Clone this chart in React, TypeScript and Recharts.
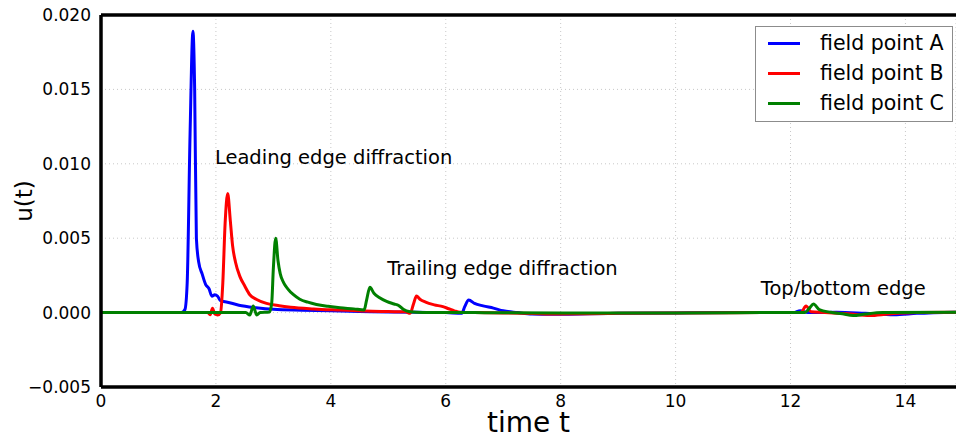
import { CartesianGrid, Label, Line, LineChart, ReferenceDot, ReferenceLine, XAxis, YAxis } from 'recharts';

// field point A (blue)
const tA = [0, 1.4, 1.46, 1.5, 1.55, 1.6, 1.63, 1.66, 1.7, 1.76, 1.82, 1.88, 1.93, 1.98, 2.03, 2.08, 2.2, 2.4, 2.7, 3.0, 3.5, 4.0, 4.5, 5.0, 5.5, 6.0, 6.28, 6.33, 6.4, 6.5, 6.65, 6.83, 7.0, 7.25, 7.5, 8.0, 8.5, 9.0, 10.0, 11.0, 12.05, 12.17, 12.3, 12.8, 13.3, 13.8, 14.2, 14.88];
const uA = [0, 0, 0.0002, 0.002, 0.012, 0.0189, 0.015, 0.005, 0.0034, 0.0026, 0.0019, 0.0016, 0.0011, 0.0012, 0.0011, 0.0008, 0.0007, 0.0005, 0.00033, 0.00022, 0.00016, 0.00012, 0.00008, 0.00004, 0.00002, 0, -0.00004, 0.0004, 0.00085, 0.00062, 0.00045, 0.0003, 0.00012, 0, -0.0001, -0.00011, -0.00008, -0.00005, -0.00002, 0, 0, 0.00013, 0, 0.00002, -0.00005, -0.00014, -0.00005, 0.00003];

// field point B (red)
const tB = [0, 1.86, 1.9, 1.94, 1.98, 2.03, 2.08, 2.12, 2.16, 2.205, 2.25, 2.29, 2.34, 2.42, 2.5, 2.59, 2.7, 2.88, 3.1, 3.3, 3.7, 4.16, 4.6, 5.0, 5.3, 5.38, 5.44, 5.49, 5.55, 5.65, 5.8, 5.95, 6.05, 6.15, 6.25, 6.5, 7.0, 7.5, 8.0, 8.5, 9.0, 10.0, 11.5, 12.18, 12.27, 12.36, 12.6, 13.0, 13.38, 13.7, 14.2, 14.88];
const uB = [0, 0, -0.00015, 0.0003, -0.0001, -0.00016, 0, 0.002, 0.006, 0.008, 0.0062, 0.0045, 0.0034, 0.0024, 0.0018, 0.0012, 0.0009, 0.00062, 0.00046, 0.00036, 0.00025, 0.00017, 0.0001, 0.00007, 0.00005, -0.00005, 0.0006, 0.00112, 0.0009, 0.0007, 0.00052, 0.0004, 0.00026, 0.00012, 0.00002, 0, -0.00002, -0.00006, -0.00009, -0.00008, -0.00005, -0.00002, 0, 0, 0.00044, 0.00005, 0.00001, -0.00008, -0.0002, -0.0001, 0, 0.00002];

// field point C (green)
const tC = [0, 2.52, 2.59, 2.65, 2.71, 2.77, 2.93, 2.97, 3.0, 3.04, 3.08, 3.12, 3.18, 3.25, 3.35, 3.46, 3.6, 3.75, 3.95, 4.16, 4.4, 4.58, 4.62, 4.68, 4.75, 4.85, 4.97, 5.1, 5.18, 5.26, 5.38, 5.6, 6.5, 8.0, 9.0, 10.0, 11.5, 12.25, 12.33, 12.4, 12.5, 12.7, 12.9, 13.09, 13.3, 13.6, 14.88];
const uC = [0, 0, -0.00016, 0.00044, -0.00016, 0, 0.00004, 0.0006, 0.003, 0.005, 0.0035, 0.0026, 0.002, 0.0016, 0.0012, 0.0009, 0.0007, 0.00055, 0.00042, 0.00032, 0.00025, 0.00018, 0.0008, 0.0017, 0.0013, 0.001, 0.00075, 0.00058, 0.00048, 0.00022, 0.00006, 0.00001, 0, -0.00002, -0.00003, -0.00002, 0, 0, 0.0003, 0.00058, 0.0002, 0.00002, -0.00008, -0.0002, -0.0001, 0, 0.00002];

const xTicks = [0, 2, 4, 6, 8, 10, 12, 14];
const yTicks = [-0.005, 0, 0.005, 0.01, 0.015, 0.02];

const seriesNames = ['field point A', 'field point B', 'field point C'];
const seriesColors = ['#0000ff', '#ff0000', '#008000'];

const noteTexts = ['Leading edge diffraction', 'Trailing edge diffraction', 'Top/bottom edge'];
const noteT = [2, 5, 11.5];
const noteU = [0.01, 0.0025, 0.0012];

const toRows = (ts: number[], us: number[]) => ts.map((t, i) => ({ t, u: us[i] }));
const series = [toRows(tA, uA), toRows(tB, uB), toRows(tC, uC)];

const FONT = 'DejaVu Sans, sans-serif';

const fmtY = (v: number) => (v < 0 ? '\u2212' + Math.abs(v).toFixed(3) : v.toFixed(3));

// matplotlib-style legend box, placed over the plot's upper right corner
function LegendBox() {
  return (
    <div
      style={{
        position: 'absolute',
        left: 755,
        top: 26,
        border: '1px solid #8c8c8c',
        background: '#fff',
        width: 196,
        height: 94,
        fontFamily: FONT,
        fontSize: 20.5,
        color: '#000',
      }}
    >
      {seriesNames.map((name, i) => (
        <div key={name} style={{ position: 'relative', height: 30, marginTop: i === 0 ? 2 : 0 }}>
          <div
            style={{
              position: 'absolute',
              left: 12,
              top: 13,
              width: 32,
              height: 3,
              background: seriesColors[i],
            }}
          />
          <span style={{ position: 'absolute', left: 64, top: 1, lineHeight: '26px', whiteSpace: 'nowrap' }}>{name}</span>
        </div>
      ))}
    </div>
  );
}

export default function App() {
  return (
    <div style={{ position: 'absolute', left: 0, top: 0, width: 956, height: 438, fontFamily: FONT }}>
      <LineChart width={956} height={438} margin={{ top: 15, right: 0, bottom: 0, left: 0 }}>
        <CartesianGrid stroke="#c8c8c8" strokeDasharray="1 3" />
        <XAxis
          type="number"
          dataKey="t"
          domain={[0, 14.88]}
          ticks={xTicks}
          allowDataOverflow
          height={51}
          tickLine={false}
          axisLine={{ stroke: '#000', strokeWidth: 3.5 }}
          tick={{ fontSize: 17, fill: '#000', fontFamily: FONT }}
          tickMargin={2}
        >
          <Label value="time t" position="insideBottom" offset={6} style={{ fontSize: 28, fill: '#000', fontFamily: FONT }} />
        </XAxis>
        <YAxis
          type="number"
          dataKey="u"
          domain={[-0.005, 0.02]}
          ticks={yTicks}
          allowDataOverflow
          width={101}
          tickLine={false}
          axisLine={{ stroke: '#000', strokeWidth: 3.5 }}
          tick={{ fontSize: 17, fill: '#000', fontFamily: FONT }}
          tickFormatter={fmtY}
          tickMargin={4}
        >
          <Label value="u(t)" angle={-90} position="center" dx={-27} style={{ fontSize: 23, fill: '#000', fontFamily: FONT }} />
        </YAxis>
        <ReferenceLine y={0.02} stroke="#000" strokeWidth={3.5} />
        {series.map((rows, i) => (
          <Line
            key={seriesNames[i]}
            data={rows}
            dataKey="u"
            name={seriesNames[i]}
            type="monotone"
            stroke={seriesColors[i]}
            strokeWidth={3}
            dot={false}
            isAnimationActive={false}
          />
        ))}
        {noteTexts.map((txt, i) => (
          <ReferenceDot
            key={txt}
            x={noteT[i]}
            y={noteU[i]}
            r={1}
            fill="none"
            stroke="none"
            label={(props: any) => {
              const vb = props.viewBox || {};
              return (
                <text x={vb.x} y={(vb.y ?? 0) + 1} fontSize={19.5} fontFamily={FONT} fill="#000">
                  {txt}
                </text>
              );
            }}
          />
        ))}
      </LineChart>
      <LegendBox />
    </div>
  );
}
